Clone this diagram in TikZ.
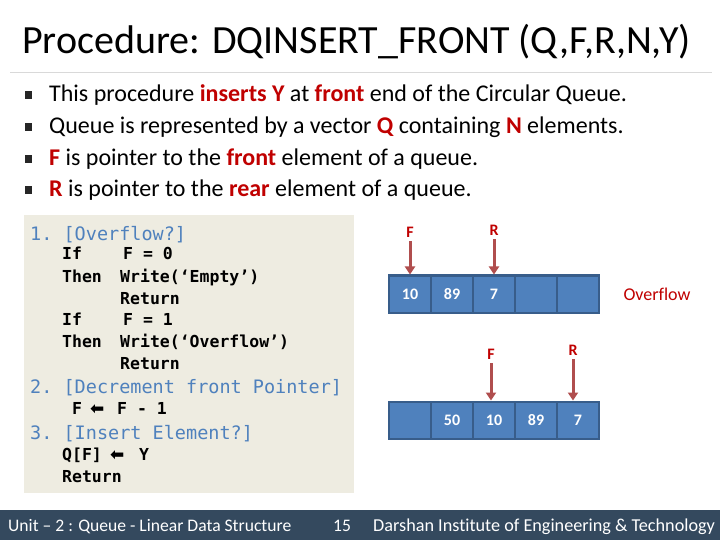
\documentclass[tikz,border=0pt]{standalone}
\usepackage{fontspec}
\setmainfont{Carlito}[Ligatures=CommonOff]
\newfontfamily\codefont{DejaVu Sans Mono}
\newfontfamily\symfont{DejaVu Sans}
\usetikzlibrary{arrows.meta}
\definecolor{hred}{HTML}{C00000}
\definecolor{codebg}{HTML}{EEECE1}
\definecolor{codeblue}{HTML}{4F81BD}
\definecolor{cellfill}{HTML}{4F81BD}
\definecolor{celledge}{HTML}{385D8A}
\definecolor{ptrcol}{HTML}{B04E4E}
\definecolor{footbg}{HTML}{34495E}
\definecolor{rulegray}{HTML}{D9D9D9}
\tikzset{
  titletext/.style={anchor=base west, inner sep=0pt, font=\fontsize{40bp}{46bp}\selectfont},
  bullettext/.style={anchor=base west, inner sep=0pt, font=\fontsize{24bp}{28bp}\selectfont},
  bulletmark/.style={fill=black!85, minimum width=6.5bp, minimum height=7.5bp, inner sep=0pt},
  codehead/.style={anchor=base west, inner sep=0pt, text=codeblue, font=\codefont\frenchspacing\fontsize{18.5bp}{21bp}\selectfont},
  codebody/.style={anchor=base west, inner sep=0pt, font=\codefont\frenchspacing\bfseries\fontsize{16.5bp}{19bp}\selectfont},
  cell/.style={draw=celledge, line width=2bp, fill=cellfill, minimum width=42bp, minimum height=37bp, inner sep=0pt, text=white, font=\bfseries\fontsize{16bp}{19bp}\selectfont},
  ptrlabel/.style={text=hred, inner sep=1bp, font=\bfseries\fontsize{16bp}{19bp}\selectfont},
  ptr/.style={draw=ptrcol, line width=3bp, -{Triangle[width=10bp,length=8bp]}, shorten <=3bp},
  foot/.style={text=white, inner sep=0pt, anchor=base west, font=\fontsize{17.6bp}{20bp}\selectfont}
}
\newcommand{\hr}[1]{\textcolor{hred}{\bfseries #1}}
\newcommand{\blockarrow}{{\symfont\fontsize{17bp}{17bp}\selectfont ⬅}}
\begin{document}
\begin{tikzpicture}[x=1bp, y=-1bp]
\useasboundingbox (0,0) rectangle (720,540);
\fill[white] (0,0) rectangle (720,540);
% title
\node[titletext] (title) at (22,54) {Procedure: DQINSERT\_FRONT (Q,F,R,N,Y)};
\draw[rulegray, line width=1bp] (10,72.5) -- (712,72.5);
% bullets
\node[bulletmark] (b1) at (28.5,95) {};
\node[bulletmark] (b2) at (28.5,127) {};
\node[bulletmark] (b3) at (28.5,159) {};
\node[bulletmark] (b4) at (28.5,190) {};
\node[bullettext] (t1) at (49,102) {This procedure \hr{inserts Y} at \hr{front} end of the Circular Queue.};
\node[bullettext] (t2) at (49,134) {Queue is represented by a vector \hr{Q} containing \hr{N} elements.};
\node[bullettext] (t3) at (49,166) {\hr{F} is pointer to the \hr{front} element of a queue.};
\node[bullettext] (t4) at (49,197) {\hr{R} is pointer to the \hr{rear} element of a queue.};
% code box
\fill[codebg] (24,215) rectangle (354,493);
\node[codehead] (h1) at (30,241) {1. [Overflow?]};
\node[codebody] (k1) at (62,260) {If};
\node[codebody] (s1) at (123,260) {F = 0};
\node[codebody] (k2) at (62,283) {Then};
\node[codebody] (s2) at (120,283) {Write(‘Empty’)};
\node[codebody] (s3) at (120,304) {Return};
\node[codebody] (k4) at (62,325) {If};
\node[codebody] (s4) at (123,325) {F = 1};
\node[codebody] (k5) at (62,347) {Then};
\node[codebody] (s5) at (120,347) {Write(‘Overflow’)};
\node[codebody] (s6) at (120,369) {Return};
\node[codehead] (h2) at (30,393) {2. [Decrement front Pointer]};
\node[codebody] (d1) at (72,414) {F};
\node[codebody] (d2) at (90,414) {\blockarrow};
\node[codebody] (d3) at (117,414) {F - 1};
\node[codehead] (h3) at (30,439) {3. [Insert Element?]};
\node[codebody] (q1) at (62,460) {Q[F]};
\node[codebody] (q2) at (110,460) {\blockarrow};
\node[codebody] (q3) at (139,460) {Y};
\node[codebody] (r1) at (62,482) {Return};
% top queue
\foreach \i/\v in {1/10,2/89,3/7,4/{},5/{}} {
  \node[cell] (a\i) at ({368+42*\i},294) {\v};
}
\node[text=hred, font=\fontsize{18bp}{21bp}\selectfont] (ovf) at (657,294) {Overflow};
\node[ptrlabel] (fa) at (410,232) {F};
\node[ptrlabel] (ra) at (494,230) {R};
\draw[ptr] (fa.south) -- (fa.south |- a1.north);
\draw[ptr] (ra.south) -- (ra.south |- a3.north);
% bottom queue
\foreach \i/\v in {1/{},2/50,3/10,4/89,5/7} {
  \node[cell] (b\i q) at ({368+42*\i},420) {\v};
}
\node[ptrlabel] (fb) at (491,354) {F};
\node[ptrlabel] (rb) at (573,350) {R};
\draw[ptr] (fb.south) -- (fb.south |- b3q.north);
\draw[ptr] (rb.south) -- (rb.south |- b5q.north);
% footer
\fill[footbg] (0,510) rectangle (720,540);
\node[foot] (f1) at (8,531) {Unit – 2 : Queue - Linear Data Structure};
\node[foot] (f2) at (333,531) {15};
\node[foot, font=\fontsize{18.2bp}{20bp}\selectfont] (f3) at (373,531) {Darshan Institute of Engineering \& Technology};
\end{tikzpicture}
\end{document}
